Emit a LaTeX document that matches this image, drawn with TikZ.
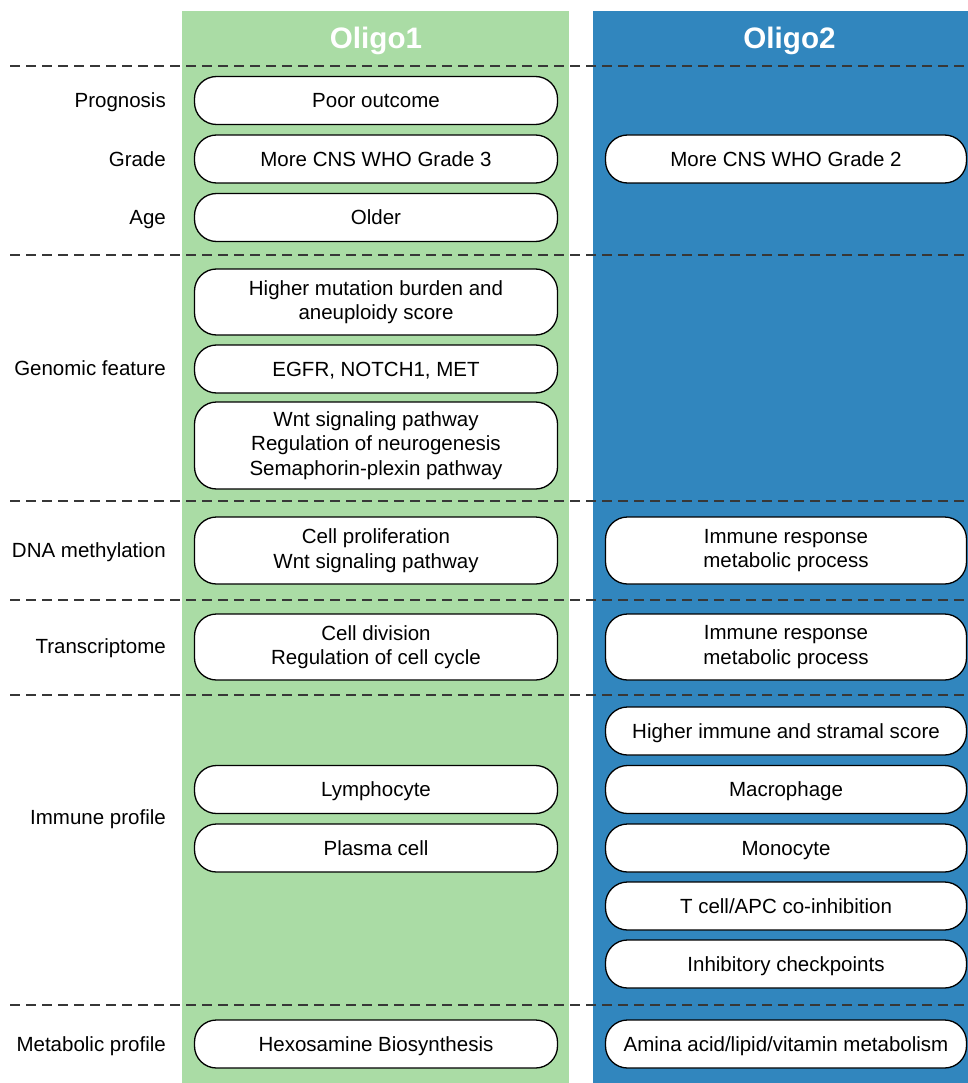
\documentclass[tikz,border=0pt]{standalone}
\usepackage{fontspec}
\setmainfont{Liberation Sans}
\definecolor{oligoA}{RGB}{170,220,165}
\definecolor{oligoB}{RGB}{49,134,190}
\definecolor{sepline}{RGB}{55,55,55}
\begin{document}
\begin{tikzpicture}[x=1pt,y=-1pt,
  pill/.style={draw=black, line width=1.3pt, fill=white, rounded corners=22pt,
    minimum height=48pt, inner sep=0pt, align=center,
    font=\fontsize{20.5}{24.5}\selectfont},
  one/.style={text height=14.8pt, text depth=0pt},
  pillL/.style={pill, minimum width=363pt},
  pillR/.style={pill, minimum width=361pt},
  rowlabel/.style={anchor=east, inner sep=0pt, text height=14.8pt, text depth=0pt,
    font=\fontsize{20.5}{24.5}\selectfont},
  sepdash/.style={sepline, line width=1.6pt, dash pattern=on 10pt off 6pt},
  coltitle/.style={anchor=base, inner sep=0pt, text=white,
    font=\fontsize{29.6}{32}\selectfont\bfseries}]
\fill[white] (0,0) rectangle (968,1083);
\useasboundingbox (0,0) rectangle (968,1083);
% columns
\fill[oligoA] (182,11) rectangle (569,1083);
\fill[oligoB] (593,11) rectangle (968,1083);
\node[coltitle] (t1) at (376,49) {Oligo1};
\node[coltitle] (t2) at (789.5,49) {Oligo2};
% separators
\foreach \yy in {66,255,501,600,695,1005}
  \draw[sepdash] (10,\yy) -- (968,\yy);
% row labels
\node[rowlabel] (lprog) at (166,100.5) {Prognosis};
\node[rowlabel] (lgrade) at (166,159) {Grade};
\node[rowlabel] (lage) at (166,217.5) {Age};
\node[rowlabel] (lgen) at (166,368.5) {Genomic feature};
\node[rowlabel] (ldna) at (166,550.5) {DNA methylation};
\node[rowlabel] (ltra) at (166,646.5) {Transcriptome};
\node[rowlabel] (limm) at (166,817) {Immune profile};
\node[rowlabel] (lmet) at (166,1044) {Metabolic profile};
% Oligo1 boxes
\node[pillL,one] (a1) at (376,100.5) {Poor outcome};
\node[pillL,one] (a2) at (376,159) {More CNS WHO Grade 3};
\node[pillL,one] (a3) at (376,217.5) {Older};
\node[pillL, minimum height=66pt] (a4) at (376,302) {Higher mutation burden and\\aneuploidy score};
\node[pillL,one] (a5) at (376,369) {EGFR, NOTCH1, MET};
\node[pillL, minimum height=87pt] (a6) at (376,445.5) {Wnt signaling pathway\\Regulation of neurogenesis\\Semaphorin-plexin pathway};
\node[pillL, minimum height=67pt] (a7) at (376,550.5) {Cell proliferation\\Wnt signaling pathway};
\node[pillL, minimum height=66pt] (a8) at (376,647) {Cell division\\Regulation of cell cycle};
\node[pillL,one] (a9) at (376,789.5) {Lymphocyte};
\node[pillL,one] (a10) at (376,848) {Plasma cell};
\node[pillL,one] (a11) at (376,1044) {Hexosamine Biosynthesis};
% Oligo2 boxes
\node[pillR,one] (b1) at (786,159) {More CNS WHO Grade 2};
\node[pillR, minimum height=67pt] (b2) at (786,550.5) {Immune response\\metabolic process};
\node[pillR, minimum height=66pt] (b3) at (786,647) {Immune response\\metabolic process};
\node[pillR,one] (b4) at (786,731) {Higher immune and stramal score};
\node[pillR,one] (b5) at (786,789.5) {Macrophage};
\node[pillR,one] (b6) at (786,848) {Monocyte};
\node[pillR,one] (b7) at (786,906) {T cell/APC co-inhibition};
\node[pillR,one] (b8) at (786,964) {Inhibitory checkpoints};
\node[pillR,one] (b9) at (786,1044) {Amina acid/lipid/vitamin metabolism};
\end{tikzpicture}
\end{document}
